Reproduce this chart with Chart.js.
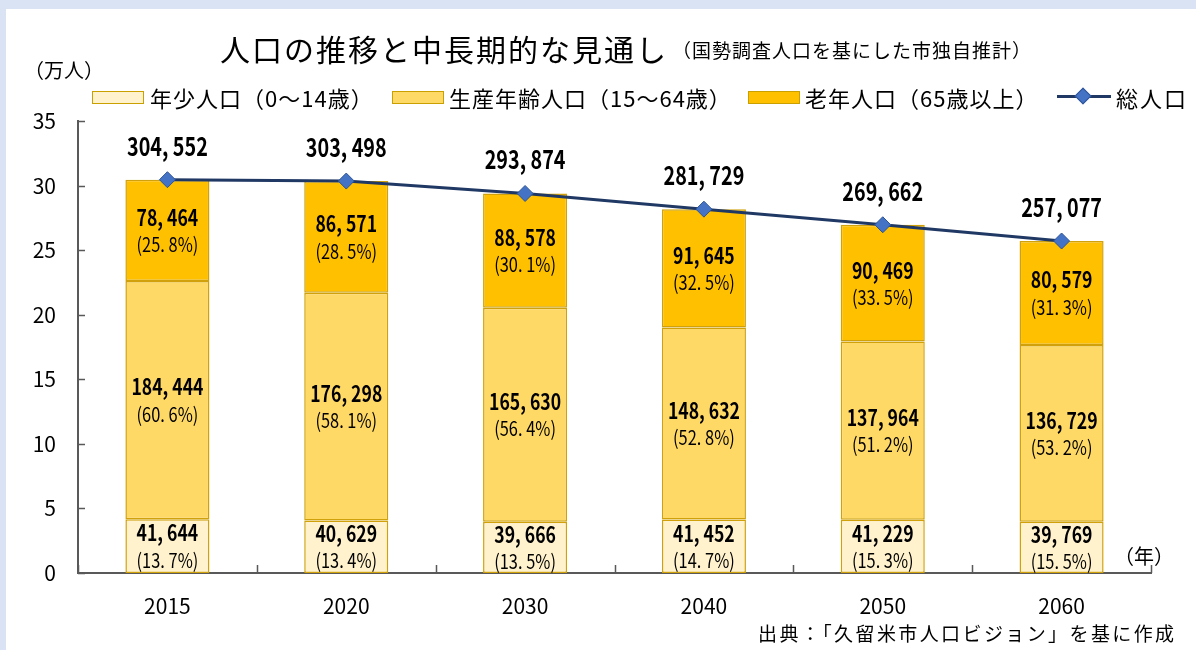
<!DOCTYPE html>
<html lang="ja">
<head>
<meta charset="utf-8">
<script src="https://cdn.jsdelivr.net/npm/chart.js@4.4.1/dist/chart.umd.min.js"></script>
<style>
  html, body { margin: 0; padding: 0; }
  body {
    width: 1196px; height: 650px; position: relative; overflow: hidden;
    background: #dae3f3; color: #000;
    font-family: "Noto Sans CJK JP", "Noto Sans", sans-serif;
  }
  #panel { position: absolute; left: 6px; top: 9px; right: 0; bottom: 0; background: #fff; }
  #chart { position: absolute; left: 0; top: 0; }
  .t { position: absolute; white-space: nowrap; line-height: 1; }
  .lg { font-size: 22px; letter-spacing: 1px; top: 86px; }
  .box { position: absolute; height: 11px; width: 50px; border: 1px solid #c9a000; top: 91px; }
</style>
</head>
<body>
<div id="panel"></div>
<canvas id="chart" width="1196" height="650"></canvas>

<div class="t" style="left:220px;top:33px;font-size:30px;letter-spacing:2px;">人口の推移と中長期的な見通し</div>
<div class="t" style="left:672px;top:40px;font-size:19px;letter-spacing:1px;">（国勢調査人口を基にした市独自推計）</div>
<div class="t" style="left:24px;top:60px;font-size:20px;">（万人）</div>

<div class="box" style="left:92px;background:#fff2cc;"></div>
<div class="t lg" style="left:150px;">年少人口（0〜14歳）</div>
<div class="box" style="left:392px;background:#ffd966;"></div>
<div class="t lg" style="left:449px;">生産年齢人口（15〜64歳）</div>
<div class="box" style="left:748px;background:#ffc000;"></div>
<div class="t lg" style="left:805px;">老年人口（65歳以上）</div>
<div style="position:absolute;left:1057px;top:95px;width:54px;height:3px;background:#203864;"></div>
<div style="position:absolute;left:1077px;top:90px;width:10px;height:10px;background:#4472c4;border:1px solid #2f5597;transform:rotate(45deg);"></div>
<div class="t lg" style="left:1116px;letter-spacing:2px;">総人口</div>

<div class="t" style="left:1114px;top:546px;font-size:20px;">（年）</div>
<div class="t" style="left:758px;top:623px;font-size:19px;letter-spacing:2.4px;">出典：「久留米市人口ビジョン」を基に作成</div>

<script>
// 年次
const years = ['2015', '2020', '2030', '2040', '2050', '2060'];
// 人口（人）
const young = [41644, 40629, 39666, 41452, 41229, 39769];
const working = [184444, 176298, 165630, 148632, 137964, 136729];
const elderly = [78464, 86571, 88578, 91645, 90469, 80579];
const total = [304552, 303498, 293874, 281729, 269662, 257077];
// 構成比（%）
const youngPct = [13.7, 13.4, 13.5, 14.7, 15.3, 15.5];
const workingPct = [60.6, 58.1, 56.4, 52.8, 51.2, 53.2];
const elderlyPct = [25.8, 28.5, 30.1, 32.5, 33.5, 31.3];
// 目盛（万人）
const yTicks = [0, 5, 10, 15, 20, 25, 30, 35];

const AXIS = '#595959';
const BAR_BORDER = '#d0a10a';
const JP_FONT = '"Noto Sans CJK JP", "Noto Sans", sans-serif';

const man = v => v / 10000;
const fmt = n => n.toLocaleString('en-US').replace(',', ', ');
const pct = p => '(' + p.toFixed(1).replace('.', '. ') + '%)';

Chart.defaults.font.family = JP_FONT;
Chart.defaults.color = '#000';

// narrow text, the reference uses a condensed face
function narrowText(ctx, text, x, y, font, sx) {
  ctx.save();
  ctx.translate(x, y);
  ctx.scale(sx, 1);
  ctx.font = font;
  ctx.fillText(text, 0, 0);
  ctx.restore();
}

// inward tick marks on both axes
const innerTicks = {
  id: 'innerTicks',
  afterDraw(chart) {
    const { ctx, chartArea: a, scales: { x, y } } = chart;
    ctx.save();
    ctx.strokeStyle = AXIS;
    ctx.lineWidth = 1.5;
    ctx.beginPath();
    yTicks.forEach(v => {
      const py = Math.round(y.getPixelForValue(v)) + 0.5;
      ctx.moveTo(a.left, py);
      ctx.lineTo(a.left + 7, py);
    });
    for (let i = 0; i <= years.length; i++) {
      const px = Math.round(x.getPixelForValue(i - 0.5)) + 0.5;
      ctx.moveTo(px, a.bottom);
      ctx.lineTo(px, a.bottom - 8);
    }
    ctx.stroke();
    ctx.restore();
  }
};

// value + share labels inside each segment, totals above the line
const valueLabels = {
  id: 'valueLabels',
  afterDatasetsDraw(chart) {
    const ctx = chart.ctx;
    const pcts = [youngPct, workingPct, elderlyPct];
    const raws = [young, working, elderly];
    ctx.save();
    ctx.textAlign = 'center';
    ctx.textBaseline = 'middle';
    ctx.fillStyle = '#000';
    [0, 1, 2].forEach(di => {
      chart.getDatasetMeta(di).data.forEach((bar, i) => {
        const cy = (bar.y + bar.base) / 2;
        narrowText(ctx, fmt(raws[di][i]), bar.x, cy - 13, 'bold 22px ' + JP_FONT, 0.8);
        narrowText(ctx, pct(pcts[di][i]), bar.x, cy + 14, '20px ' + JP_FONT, 0.82);
      });
    });
    chart.getDatasetMeta(3).data.forEach((pt, i) => {
      narrowText(ctx, fmt(total[i]), pt.x, pt.y - 34, 'bold 26px ' + JP_FONT, 0.76);
    });
    ctx.restore();
  }
};

const barBase = {
  type: 'bar',
  stack: 'pop',
  order: 1,
  borderColor: BAR_BORDER,
  borderWidth: 1.5,
  borderSkipped: false,
  categoryPercentage: 1,
  barPercentage: 0.47,
};

new Chart(document.getElementById('chart'), {
  data: {
    labels: years,
    datasets: [
      { ...barBase, label: '年少人口（0〜14歳）', data: young.map(man), backgroundColor: '#fff2cc' },
      { ...barBase, label: '生産年齢人口（15〜64歳）', data: working.map(man), backgroundColor: '#ffd966' },
      { ...barBase, label: '老年人口（65歳以上）', data: elderly.map(man), backgroundColor: '#ffc000' },
      {
        type: 'line',
        label: '総人口',
        order: 0,
        data: total.map(man),
        borderColor: '#203864',
        borderWidth: 3,
        pointStyle: 'rectRot',
        pointRadius: 8,
        pointBackgroundColor: '#4472c4',
        pointBorderColor: '#2f5597',
        pointBorderWidth: 1,
        clip: false,
      },
    ],
  },
  options: {
    responsive: false,
    animation: false,
    layout: { padding: { left: 0, right: 45, top: 121, bottom: 17 } },
    plugins: { legend: { display: false }, tooltip: { enabled: false } },
    scales: {
      x: {
        stacked: true,
        grid: { display: false },
        border: { display: true, color: AXIS, width: 2 },
        ticks: { font: { size: 21 }, padding: 12, color: '#000' },
        afterFit(s) { s.height = 60; },
      },
      y: {
        stacked: true,
        min: 0,
        max: 35,
        grid: { display: false },
        border: { display: true, color: AXIS, width: 2 },
        ticks: { stepSize: 5, font: { size: 21 }, padding: 14, color: '#000' },
        afterFit(s) { s.width = 78; },
      },
    },
  },
  plugins: [innerTicks, valueLabels],
});
</script>
</body>
</html>
